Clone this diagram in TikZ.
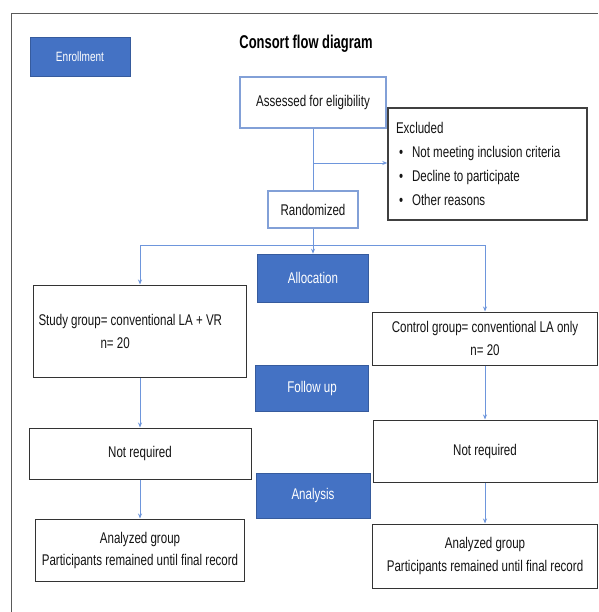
\documentclass[tikz,border=0pt]{standalone}
\usepackage{fontspec}
\setmainfont{Liberation Sans}[FakeStretch=0.745]
\newfontfamily\titlefont{Liberation Sans}[FakeStretch=0.70]
\usetikzlibrary{arrows.meta}
\definecolor{hdrblue}{RGB}{68,114,196}
\definecolor{lineblue}{RGB}{110,150,220}
\definecolor{boxblue}{RGB}{130,160,215}
\definecolor{txt}{RGB}{20,20,20}
\definecolor{frame}{RGB}{90,90,90}
\tikzset{
  hdr/.style={fill=hdrblue, draw=hdrblue!80!black, line width=0.6pt, text=white, inner sep=0pt, font=\fontsize{15.5}{18}\selectfont},
  bluebox/.style={draw=boxblue, line width=1.1pt, fill=white, text=txt, inner sep=0pt, font=\fontsize{15.5}{18}\selectfont},
  plainbox/.style={draw=black!80, line width=1pt, fill=white, text=txt, inner sep=0pt, align=center, font=\fontsize{15.5}{23}\selectfont},
  conn/.style={draw=lineblue, line width=0.8pt},
  arr/.style={conn, -{Stealth[length=5pt,width=4pt]}},
}
\begin{document}
\begin{tikzpicture}[x=1pt,y=-1pt]
\useasboundingbox (0,0) rectangle (598,612);
\draw[frame, line width=0.8pt] (11,612) -- (11,13.5) -- (598,13.5);

\node[hdr, minimum width=100pt, minimum height=39pt, font=\fontsize{13.5}{16}\selectfont] (enroll) at (80,56.5) {Enrollment};
\node[text=black, font=\titlefont\bfseries\fontsize{18.5}{22}\selectfont] (title) at (306,44) {Consort flow diagram};

\node[bluebox, minimum width=146pt, minimum height=51pt] (assess) at (313,102.5) {Assessed for eligibility};
\node[draw=black!75, line width=1.4pt, fill=white, text=txt, minimum width=199pt, minimum height=112pt, inner sep=0pt, text width=189pt, align=flush left, font=\fontsize{15.5}{24}\selectfont] (excl) at (487.5,164)
  {\hspace*{3pt}Excluded\\\hspace*{6pt}\textbullet\hspace*{9pt}Not meeting inclusion criteria\\\hspace*{6pt}\textbullet\hspace*{9pt}Decline to participate\\\hspace*{6pt}\textbullet\hspace*{9pt}Other reasons};
\node[bluebox, minimum width=90pt, minimum height=37pt] (rand) at (313,209.5) {Randomized};

\node[hdr, minimum width=111pt, minimum height=48pt] (alloc) at (313,278) {Allocation};
\node[hdr, minimum width=113pt, minimum height=46pt] (follow) at (312,388) {Follow up};
\node[hdr, minimum width=114pt, minimum height=45pt] (analysis) at (313,495.5) {Analysis};

\node[plainbox, minimum width=213pt, minimum height=92pt, text width=203pt, align=flush left] (study) at (140,331)
  {Study group= conventional LA + VR\\\hspace*{62pt}n= 20};
\node[plainbox, minimum width=225pt, minimum height=53pt] (control) at (485,338.5)
  {Control group= conventional LA only\\n= 20};

\node[plainbox, minimum width=222pt, minimum height=51pt] (nrL) at (140,453.5) {Not required};
\node[plainbox, minimum width=224pt, minimum height=62pt] (nrR) at (485,451) {Not required};

\node[plainbox, minimum width=209pt, minimum height=62pt, font=\fontsize{15.5}{22}\selectfont] (anL) at (140,550)
  {Analyzed group\\Participants remained until final record};
\node[plainbox, minimum width=225pt, minimum height=64pt, font=\fontsize{15.5}{23}\selectfont] (anR) at (485,556)
  {Analyzed group\\Participants remained until final record};

\coordinate (bx) at (313,163);
\coordinate (sl) at (140,245);
\coordinate (sr) at (485,245);

\draw[conn] (assess) -- (rand);
\draw[arr] (bx) -- (bx -| excl.west);
\draw[conn] (sl) -- (sr);
\draw[arr] (rand) -- (alloc);
\draw[arr] (sl) -- (study);
\draw[arr] (sr) -- (control);
\draw[arr] (study) -- (nrL);
\draw[arr] (control) -- (nrR);
\draw[arr] (nrL) -- (anL);
\draw[arr] (nrR) -- (anR);
\end{tikzpicture}
\end{document}
